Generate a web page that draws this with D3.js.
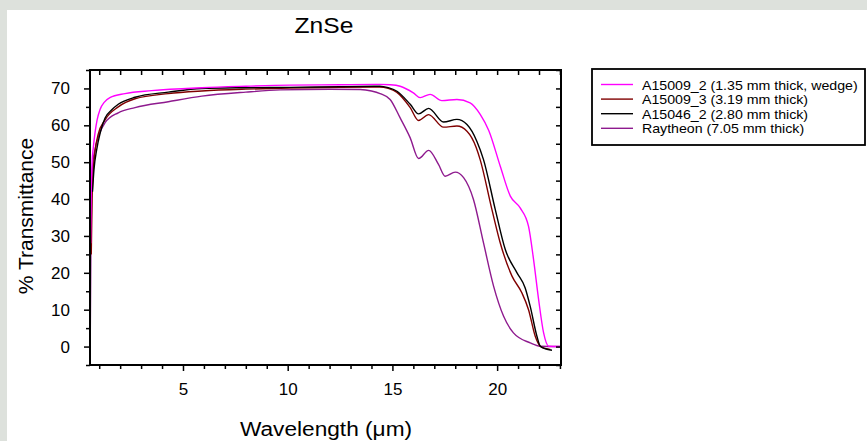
<!DOCTYPE html>
<html>
<head>
<meta charset="utf-8">
<script src="https://cdnjs.cloudflare.com/ajax/libs/d3/7.8.5/d3.min.js"></script>
<style>
  body { margin: 0; background: #dde1dc; }
  svg { display: block; font-family: "Liberation Sans", Arial, sans-serif; }
</style>
</head>
<body>
<div id="container"></div>
<script>
// Series: wavelength (um) and % transmittance
var a15009_2_wl = [0.59, 0.62, 0.66, 0.72, 0.8, 0.9, 1.04, 1.25, 1.51, 2.23, 3.5, 5.9, 8, 10.1, 12.5, 14.4, 14.9, 15.37, 16.0, 16.33, 16.8, 17.36, 18.08, 18.71, 19.2, 19.6, 20.15, 20.63, 21.1, 21.5, 21.74, 21.98, 22.22, 22.46, 23.0];
var a15009_2_t  = [28, 42, 50, 54, 58, 61.5, 64.3, 66.3, 67.5, 68.6, 69.4, 70.2, 70.6, 70.9, 71.0, 71.1, 71.0, 70.6, 68.8, 67.5, 68.4, 66.7, 67.0, 66.1, 62.9, 58.6, 48.9, 40.8, 37.6, 32.6, 23.6, 12.8, 3.7, 0.1, 0];

var a15009_3_wl = [0.62, 0.66, 0.72, 0.8, 0.95, 1.28, 1.91, 2.71, 4.3, 5.9, 8, 10.1, 12.5, 14.4, 14.8, 15.2, 15.85, 16.25, 16.73, 17.44, 18.08, 18.56, 19.0, 19.19, 19.75, 20.15, 20.71, 21.18, 21.5, 21.82, 22.06, 22.3, 22.54];
var a15009_3_t  = [25, 40, 48, 53, 57.5, 61.5, 65, 67.2, 68.6, 69.3, 69.8, 70.1, 70.3, 70.4, 70.0, 69, 64.8, 61.3, 62.9, 59.5, 59.8, 58.4, 54, 50.7, 37.2, 28.1, 19.1, 14.6, 10, 2.8, 0.1, -0.5, -0.8];

var a15046_2_wl = [0.68, 0.75, 0.88, 1.05, 1.28, 1.6, 1.91, 2.71, 4.3, 5.9, 8, 10.1, 12.5, 14.4, 14.8, 15.2, 15.85, 16.25, 16.73, 17.44, 18.08, 18.56, 19.03, 19.35, 19.91, 20.39, 20.95, 21.34, 21.58, 21.9, 22.06, 22.3, 22.62];
var a15046_2_t  = [42, 48, 53.4, 58, 62, 64.2, 65.7, 67.6, 69, 70, 70.2, 70.3, 70.5, 70.6, 70.2, 69.3, 65.7, 63.1, 64.6, 60.9, 61.6, 60.2, 55.7, 50.7, 37.2, 26.3, 20.0, 15.9, 10.9, 2.8, 0.1, -0.6, -1.0];

var raytheon_wl = [0.57, 0.6, 0.64, 0.7, 0.8, 1.0, 1.28, 1.91, 2.71, 4.3, 5.9, 8, 9.64, 12, 13.46, 14.0, 14.41, 14.89, 15.37, 15.85, 16.25, 16.73, 17.2, 17.52, 18.0, 18.4, 18.87, 19.35, 19.83, 20.31, 20.78, 21.58, 22.06, 23.0];
var raytheon_t  = [0, 25, 42, 50, 53.5, 57.5, 60.7, 63.4, 64.8, 66.4, 67.9, 69.0, 69.6, 69.8, 69.7, 69.3, 68.6, 67.0, 62.0, 56.6, 51.0, 53.2, 49.4, 46.2, 47.3, 45.8, 39.9, 28.1, 16.4, 8.2, 3.7, 1.0, 0.1, 0];

var seriesNames = ["A15009_2 (1.35 mm thick, wedge)", "A15009_3 (3.19 mm thick)", "A15046_2 (2.80 mm thick)", "Raytheon (7.05 mm thick)"];
var seriesColors = ["#ff00ff", "#800000", "#000000", "#8e1a8e"];

var xMajor = [5, 10, 15, 20];
var yMajor = [0, 10, 20, 30, 40, 50, 60, 70];

// Build the series table
var series = [
  { name: seriesNames[0], color: seriesColors[0], wl: a15009_2_wl, t: a15009_2_t },
  { name: seriesNames[1], color: seriesColors[1], wl: a15009_3_wl, t: a15009_3_t },
  { name: seriesNames[2], color: seriesColors[2], wl: a15046_2_wl, t: a15046_2_t },
  { name: seriesNames[3], color: seriesColors[3], wl: raytheon_wl, t: raytheon_t }
];
// draw order: purple first, magenta on top
var drawOrder = [3, 1, 2, 0];

var width = 867, height = 441;
var plot = { left: 90, right: 561, top: 70, bottom: 365 };

var svg = d3.select("#container")
  .append("svg")
  .attr("width", width)
  .attr("height", height);

// Grey border and white panel
svg.append("rect").attr("width", width).attr("height", height).attr("fill", "#dde1dc");
svg.append("rect").attr("x", 7).attr("y", 10).attr("width", width - 7).attr("height", height - 10).attr("fill", "#ffffff");

var x = d3.scaleLinear().domain([0.56, 23.05]).range([plot.left, plot.right]);
var y = d3.scaleLinear().domain([-5, 75]).range([plot.bottom, plot.top]);

var xMinor = d3.range(1, 24).filter(function(d) { return xMajor.indexOf(d) < 0; });
var yMinor = d3.range(-5, 76, 5).filter(function(d) { return yMajor.indexOf(d) < 0; });

// Clip lines to the plot area
svg.append("clipPath").attr("id", "clip")
  .append("rect")
  .attr("x", plot.left).attr("y", plot.top)
  .attr("width", plot.right - plot.left).attr("height", plot.bottom - plot.top);

var line = d3.line()
  .x(function(d) { return x(d[0]); })
  .y(function(d) { return y(d[1]); })
  .curve(d3.curveMonotoneX);

svg.append("g").attr("clip-path", "url(#clip)")
  .selectAll("path")
  .data(drawOrder.map(function(i) { return series[i]; }))
  .enter().append("path")
  .attr("d", function(s) { return line(s.wl.map(function(w, i) { return [w, s.t[i]]; })); })
  .attr("fill", "none")
  .attr("stroke", function(s) { return s.color; })
  .attr("stroke-width", 1.4);

function styleAxis(g) {
  g.select(".domain").remove();
  g.selectAll("line").attr("stroke", "#000").attr("stroke-width", 1.5);
  g.selectAll("text").attr("fill", "#000").style("font-size", "17px")
    .style("font-family", "'Liberation Sans', Arial, sans-serif");
}

// Bottom axis (outward)
svg.append("g").attr("transform", "translate(0," + plot.bottom + ")")
  .call(d3.axisBottom(x).tickValues(xMajor).tickSize(6).tickPadding(12).tickFormat(d3.format("d")))
  .call(styleAxis);
svg.append("g").attr("transform", "translate(0," + plot.bottom + ")")
  .call(d3.axisBottom(x).tickValues(xMinor).tickSize(4).tickFormat(""))
  .call(styleAxis);

// Left axis (outward)
svg.append("g").attr("transform", "translate(" + plot.left + ",0)")
  .call(d3.axisLeft(y).tickValues(yMajor).tickSize(6).tickPadding(14).tickFormat(d3.format("d")))
  .call(styleAxis);
svg.append("g").attr("transform", "translate(" + plot.left + ",0)")
  .call(d3.axisLeft(y).tickValues(yMinor).tickSize(4).tickFormat(""))
  .call(styleAxis);

// Top and right axes (inward ticks)
svg.append("g").attr("transform", "translate(0," + plot.top + ")")
  .call(d3.axisTop(x).tickValues(d3.range(1, 24)).tickSize(-5).tickFormat(""))
  .call(styleAxis);
svg.append("g").attr("transform", "translate(" + plot.right + ",0)")
  .call(d3.axisRight(y).tickValues(d3.range(-5, 76, 5)).tickSize(-5).tickFormat(""))
  .call(styleAxis);

// Frame
svg.append("rect")
  .attr("x", plot.left).attr("y", plot.top)
  .attr("width", plot.right - plot.left).attr("height", plot.bottom - plot.top)
  .attr("fill", "none").attr("stroke", "#000").attr("stroke-width", 2);

// Title and axis labels
svg.append("text")
  .attr("transform", "translate(324,33) scale(1.12,1)")
  .attr("text-anchor", "middle")
  .style("font-size", "22px")
  .text("ZnSe");

svg.append("text")
  .attr("transform", "translate(326,436) scale(1.08,1)")
  .attr("text-anchor", "middle")
  .style("font-size", "21px")
  .text("Wavelength (μm)");

svg.append("text")
  .attr("transform", "translate(33,216) rotate(-90)")
  .attr("text-anchor", "middle")
  .style("font-size", "21px")
  .text("% Transmittance");

// Legend
var legend = svg.append("g");
legend.append("rect")
  .attr("x", 592).attr("y", 69).attr("width", 273).attr("height", 76)
  .attr("fill", "#fff").attr("stroke", "#000").attr("stroke-width", 1.8);

var rows = legend.selectAll(".row")
  .data(series)
  .enter().append("g")
  .attr("class", "row")
  .attr("transform", function(d, i) { return "translate(0," + (84.5 + i * 14.6) + ")"; });

rows.append("line")
  .attr("x1", 601).attr("x2", 633)
  .attr("stroke", function(d) { return d.color; })
  .attr("stroke-width", 1.4);

rows.append("text")
  .attr("transform", "translate(642,5) scale(1.05,1)")
  .style("font-size", "13.5px")
  .text(function(d) { return d.name; });
</script>
</body>
</html>
